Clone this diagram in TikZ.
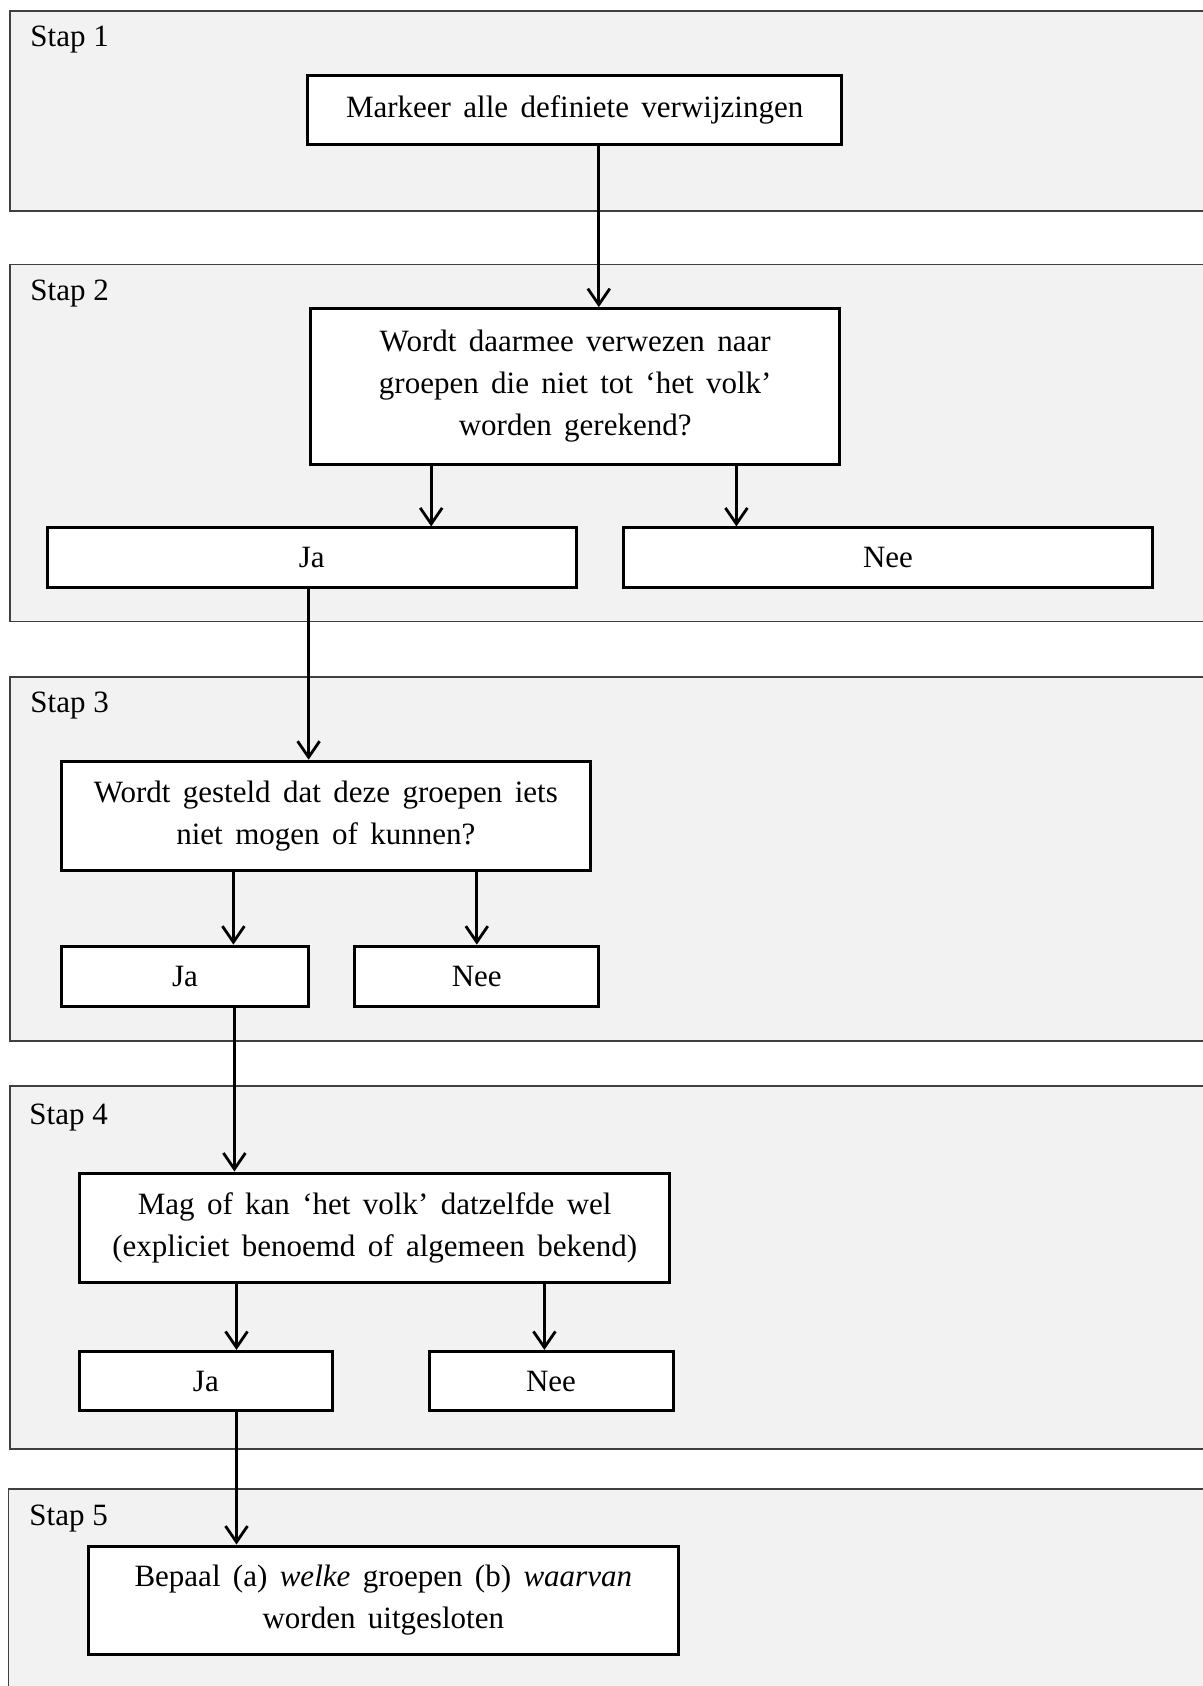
\documentclass[tikz,border=0pt]{standalone}
\usepackage{fontspec}
\setmainfont{Liberation Serif}
\usetikzlibrary{arrows.meta}

\definecolor{panelgray}{HTML}{F2F2F2}
\definecolor{panelline}{HTML}{404040}
\newcommand{\flowfont}{\fontsize{15.5}{21}\selectfont\spaceskip=6.2pt\relax}

\begin{document}
\begin{tikzpicture}[x=0.5pt, y=-0.5pt,
    panel/.style={draw=panelline, line width=0.9pt, fill=panelgray},
    steplabel/.style={anchor=west, inner sep=0pt, font=\fontsize{15.5}{21}\selectfont},
    box/.style={draw=black, line width=1.5pt, fill=white, align=center, inner sep=0pt},
    arr/.style={line width=1.4pt, -{Straight Barb[length=8pt, width=11pt, line width=1.4pt]}},
    every node/.style={font=\flowfont}]

    \useasboundingbox (0,0) rectangle (1203,1686);
    \clip (0,0) rectangle (1203,1686);

    % the five panels, open to the right
    \draw[panel] (9.7,10.8) rectangle (1220,210.7);
    \draw[panel] (9.7,264.5) rectangle (1220,621.4);
    \draw[panel] (9.7,677.3) rectangle (1220,1040.7);
    \draw[panel] (9.7,1085.9) rectangle (1220,1449.2);
    \draw[panel] (8.5,1489) rectangle (1220,1710);

    \node[steplabel] (stap1) at (30,40) {Stap 1};
    \node[steplabel] (stap2) at (30,294) {Stap 2};
    \node[steplabel] (stap3) at (30,706) {Stap 3};
    \node[steplabel] (stap4) at (29,1118) {Stap 4};
    \node[steplabel] (stap5) at (29,1519) {Stap 5};

    % stap 1
    \node[box, minimum width=267pt, minimum height=34.4pt] (mark) at (574.6,109.7)
        {Markeer alle definiete verwijzingen};

    % stap 2
    \node[box, minimum width=264.5pt, minimum height=77.9pt] (volk) at (575.2,386.5)
        {Wordt daarmee verwezen naar\\groepen die niet tot ‘het volk’\\worden gerekend?};
    \node[box, minimum width=264.5pt, minimum height=29.6pt] (ja2) at (311.8,557.5) {Ja};
    \node[box, minimum width=264.5pt, minimum height=29.6pt] (nee2) at (888,557.5) {Nee};

    % stap 3
    \node[box, minimum width=264.5pt, minimum height=54.8pt] (mogen) at (325.8,816)
        {Wordt gesteld dat deze groepen iets\\niet mogen of kunnen?};
    \node[box, minimum width=123.7pt, minimum height=30.1pt] (ja3) at (185,976.2) {Ja};
    \node[box, minimum width=122pt, minimum height=30.1pt] (nee3) at (476.8,976.2) {Nee};

    % stap 4
    \node[box, minimum width=295.1pt, minimum height=54.8pt] (wel) at (374.7,1227.8)
        {Mag of kan ‘het volk’ datzelfde wel\\(expliciet benoemd of algemeen bekend)};
    \node[box, minimum width=126.3pt, minimum height=29.6pt] (ja4) at (205.9,1381) {Ja};
    \node[box, minimum width=122pt, minimum height=29.6pt] (nee4) at (551,1381) {Nee};

    % stap 5
    \node[box, minimum width=295.1pt, minimum height=54.3pt] (bepaal) at (383.3,1600.3)
        {Bepaal (a) \textit{welke} groepen (b) \textit{waarvan}\\worden uitgesloten};

    % arrows
    \draw[arr] ([xshift=12.1pt]mark.south) -- ([xshift=12.1pt]mark.south |- volk.north);
    \draw[arr] ([xshift=-72pt]volk.south) -- ([xshift=-72pt]volk.south |- ja2.north);
    \draw[arr] ([xshift=80.6pt]volk.south) -- ([xshift=80.6pt]volk.south |- nee2.north);
    \draw[arr] ([xshift=-1.6pt]ja2.south) -- ([xshift=-1.6pt]ja2.south |- mogen.north);
    \draw[arr] ([xshift=-46.2pt]mogen.south) -- ([xshift=-46.2pt]mogen.south |- ja3.north);
    \draw[arr] (nee3.north |- mogen.south) -- (nee3.north);
    \draw[arr] ([xshift=24.7pt]ja3.south) -- ([xshift=24.7pt]ja3.south |- wel.north);
    \draw[arr] ([xshift=-69.1pt]wel.south) -- ([xshift=-69.1pt]wel.south |- ja4.north);
    \draw[arr] ([xshift=-3.3pt]nee4.north |- wel.south) -- ([xshift=-3.3pt]nee4.north);
    \draw[arr] ([xshift=15.3pt]ja4.south) -- ([xshift=15.3pt]ja4.south |- bepaal.north);

\end{tikzpicture}
\end{document}
